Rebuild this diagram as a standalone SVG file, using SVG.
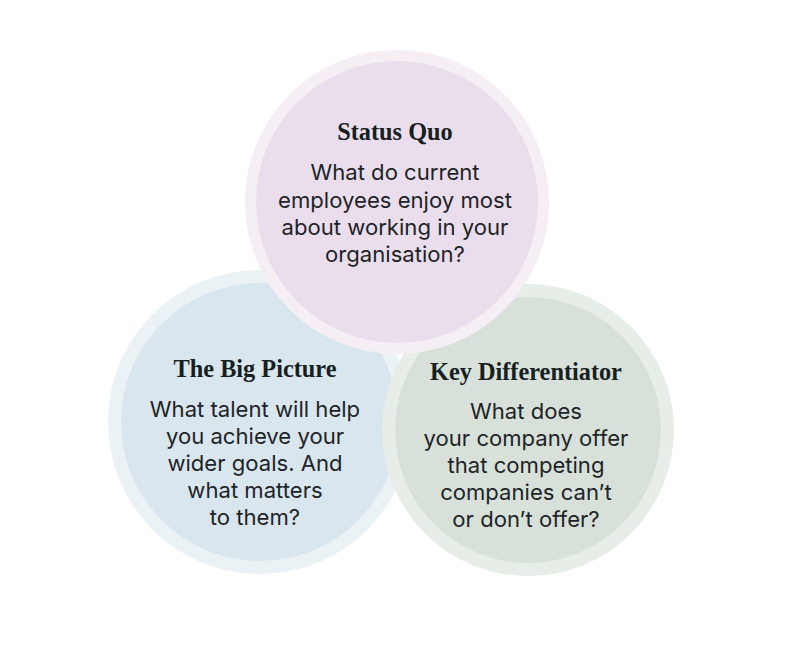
<svg xmlns="http://www.w3.org/2000/svg" width="800" height="657" viewBox="0 0 800 657">
<style>
.title{font-family:"Liberation Serif","DejaVu Serif",serif;font-weight:bold;font-size:24.3px;fill:#17201f;text-anchor:middle}
.body{font-family:Inter,"Liberation Sans",sans-serif;font-size:22.1px;fill:#1e2427;text-anchor:middle}
</style>
<rect width="800" height="657" fill="#ffffff"/>
<g id="big-picture">
<circle cx="260" cy="422" r="152" fill="#eaf2f6"/>
<circle cx="260" cy="422" r="139" fill="#d9e6ee"/>
</g>
<g id="key-differentiator">
<circle cx="528" cy="430" r="146" fill="#e7eee8"/>
<circle cx="528" cy="430" r="133" fill="#d7e1d9"/>
</g>
<g id="status-quo">
<circle cx="397" cy="202" r="152" fill="#f5eef5"/>
<circle cx="397" cy="202" r="141" fill="#ebdeec"/>
</g>
<g id="connectors"></g>
<g id="labels">
<text class="title" x="395" y="140">Status Quo</text>
<text class="body" x="395" y="180">What do current</text>
<text class="body" x="395" y="208">employees enjoy most</text>
<text class="body" x="395" y="235">about working in your</text>
<text class="body" x="395" y="262">organisation?</text>
<text class="title" x="255" y="377">The Big Picture</text>
<text class="body" x="255" y="417">What talent will help</text>
<text class="body" x="255" y="444">you achieve your</text>
<text class="body" x="255" y="471">wider goals. And</text>
<text class="body" x="255" y="498">what matters</text>
<text class="body" x="255" y="525">to them?</text>
<text class="title" x="526" y="380">Key Differentiator</text>
<text class="body" x="526" y="419">What does</text>
<text class="body" x="526" y="446">your company offer</text>
<text class="body" x="526" y="473">that competing</text>
<text class="body" x="526" y="500">companies can’t</text>
<text class="body" x="526" y="527">or don’t offer?</text>
</g>
</svg>
